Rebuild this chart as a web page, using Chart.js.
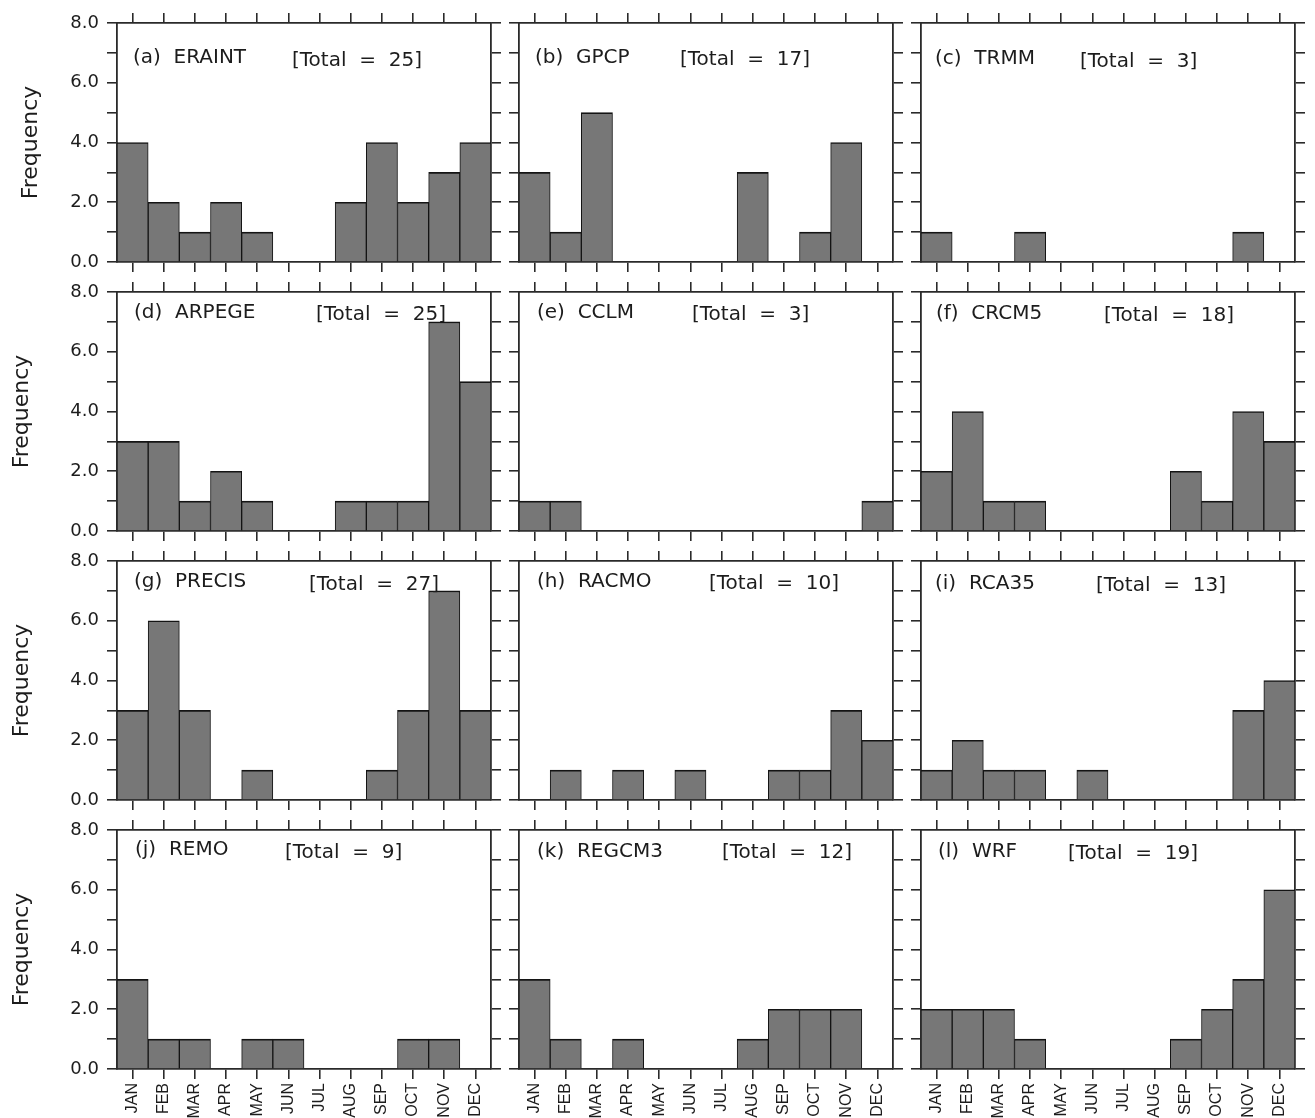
<!DOCTYPE html>
<html>
<head>
<meta charset="utf-8">
<script src="https://cdn.jsdelivr.net/npm/chart.js@4.4.1/dist/chart.umd.min.js"></script>
<style>
  html, body { margin: 0; padding: 0; background: #ffffff; }
  #wrap { position: relative; width: 1315px; height: 1118px; overflow: hidden; background: #ffffff; }
  #wrap canvas { position: absolute; }
</style>
</head>
<body>
<div id="wrap"></div>
<script>
// Month categories on every panel
const months = ['JAN', 'FEB', 'MAR', 'APR', 'MAY', 'JUN', 'JUL', 'AUG', 'SEP', 'OCT', 'NOV', 'DEC'];

// Monthly event counts per dataset / model
const eraint = [4, 2, 1, 2, 1, 0, 0, 2, 4, 2, 3, 4];
const gpcp   = [3, 1, 5, 0, 0, 0, 0, 3, 0, 1, 4, 0];
const trmm   = [1, 0, 0, 1, 0, 0, 0, 0, 0, 0, 1, 0];
const arpege = [3, 3, 1, 2, 1, 0, 0, 1, 1, 1, 7, 5];
const cclm   = [1, 1, 0, 0, 0, 0, 0, 0, 0, 0, 0, 1];
const crcm5  = [2, 4, 1, 1, 0, 0, 0, 0, 2, 1, 4, 3];
const precis = [3, 6, 3, 0, 1, 0, 0, 0, 1, 3, 7, 3];
const racmo  = [0, 1, 0, 1, 0, 1, 0, 0, 1, 1, 3, 2];
const rca35  = [1, 2, 1, 1, 0, 1, 0, 0, 0, 0, 3, 4];
const remo   = [3, 1, 1, 0, 1, 1, 0, 0, 0, 1, 1, 0];
const regcm3 = [3, 1, 0, 1, 0, 0, 0, 1, 2, 2, 2, 0];
const wrf    = [2, 2, 2, 1, 0, 0, 0, 0, 1, 2, 3, 6];

const panelSeries = [eraint, gpcp, trmm, arpege, cclm, crcm5, precis, racmo, rca35, remo, regcm3, wrf];
const panelNames  = ['ERAINT', 'GPCP', 'TRMM', 'ARPEGE', 'CCLM', 'CRCM5', 'PRECIS', 'RACMO', 'RCA35', 'REMO', 'REGCM3', 'WRF'];
const panelLetters = ['a', 'b', 'c', 'd', 'e', 'f', 'g', 'h', 'i', 'j', 'k', 'l'];

// Y axis: 0..8, a tick at every unit, a label at every second one
const yMin = 0;
const yMax = 8;
const yStep = 1;
const yLabelEvery = 2;

// ---- layout of the 4 x 3 grid of panels ----
const PANEL_W = 374;
const PANEL_H = 239;
const TICK = 10;
const MARGIN = 12;            // spare room around each canvas so label padding never squeezes the plot
const colLeft = [117, 519, 921];
const rowTop = [23, 292, 561, 830];
const BOTTOM_LABEL_H = 49;

// Placement of the in-panel captions (offsets from the plot area's top-left, baseline)
const titlePos = [[16, 40], [16, 40], [14, 41], [17, 26], [18, 26], [15, 27],
                  [17, 26], [18, 26], [14, 28], [18, 25], [18, 27], [17, 27]];
const totalPos = [[175, 43], [161, 42], [159, 44], [199, 28], [173, 28], [183, 29],
                  [192, 29], [190, 28], [175, 30], [168, 28], [203, 28], [147, 29]];

const INK = '#1c1c1c';
const FRAME = '#2a2a2a';
const BAR_FILL = '#777777';

const panelText = {
  id: 'panelText',
  afterDraw(chart, args, opts) {
    const { ctx, chartArea } = chart;
    ctx.save();
    ctx.fillStyle = INK;
    ctx.font = '20px "DejaVu Sans"';
    ctx.textBaseline = 'alphabetic';
    ctx.textAlign = 'left';
    ctx.fillText(opts.title, chartArea.left + opts.titleXY[0], chartArea.top + opts.titleXY[1]);
    ctx.fillText(opts.total, chartArea.left + opts.totalXY[0], chartArea.top + opts.totalXY[1]);
    ctx.restore();
  }
};

const wrap = document.getElementById('wrap');

panelSeries.forEach((values, i) => {
  const col = i % 3;
  const row = Math.floor(i / 3);
  const leftW = (col === 0 ? colLeft[0] : TICK + MARGIN);
  const bottomH = (row === 3 ? BOTTOM_LABEL_H : TICK) + MARGIN;
  const topH = TICK + MARGIN;
  const rightW = TICK + MARGIN;
  const w = leftW + PANEL_W + rightW;
  const h = topH + PANEL_H + bottomH;

  const canvas = document.createElement('canvas');
  canvas.width = w;
  canvas.height = h;
  canvas.style.width = w + 'px';
  canvas.style.height = h + 'px';
  canvas.style.left = (colLeft[col] - leftW) + 'px';
  canvas.style.top = (rowTop[row] - topH) + 'px';
  wrap.appendChild(canvas);

  const total = values.reduce((a, b) => a + b, 0);

  const gridTicks = {
    drawOnChartArea: false,
    drawTicks: true,
    tickLength: TICK,
    color: FRAME,
    lineWidth: 1.6,
    offset: false
  };
  const frameBorder = { display: true, color: FRAME, width: 1.8 };

  new Chart(canvas, {
    type: 'bar',
    data: {
      labels: months,
      datasets: [{
        data: values,
        backgroundColor: BAR_FILL,
        borderColor: '#141414',
        borderWidth: { top: 1.6, left: 1, right: 1, bottom: 0 },
        borderSkipped: 'start',
        categoryPercentage: 1.0,
        barPercentage: 1.0
      }]
    },
    options: {
      responsive: false,
      animation: false,
      events: [],
      layout: { padding: 0 },
      plugins: {
        legend: { display: false },
        tooltip: { enabled: false },
        panelText: {
          title: '(' + panelLetters[i] + ')  ' + panelNames[i],
          total: '[Total  =  ' + total + ']',
          titleXY: titlePos[i],
          totalXY: totalPos[i]
        }
      },
      scales: {
        x: {
          type: 'category',
          position: 'bottom',
          offset: true,
          grid: gridTicks,
          border: frameBorder,
          ticks: {
            display: row === 3,
            autoSkip: false,
            minRotation: 90,
            maxRotation: 90,
            padding: 4,
            color: INK,
            font: { family: '"Liberation Sans", Arial, sans-serif', size: 16, lineHeight: 1 }
          },
          afterFit: (s) => { s.height = bottomH; }
        },
        xTop: {
          type: 'category',
          position: 'top',
          offset: true,
          labels: months,
          grid: gridTicks,
          border: frameBorder,
          ticks: { display: false },
          afterFit: (s) => { s.height = topH; }
        },
        y: {
          type: 'linear',
          position: 'left',
          min: yMin,
          max: yMax,
          grid: gridTicks,
          border: frameBorder,
          ticks: {
            display: col === 0,
            stepSize: yStep,
            padding: 8,
            color: INK,
            font: { family: '"DejaVu Sans"', size: 18, lineHeight: 1 },
            callback: (v) => (v % yLabelEvery === 0 ? v.toFixed(1) : '')
          },
          title: {
            display: col === 0,
            text: 'Frequency',
            color: INK,
            font: { family: '"DejaVu Sans"', size: 22, lineHeight: 1.2 },
            padding: { top: row === 0 ? 18 : 9, bottom: 0 }
          },
          afterFit: (s) => { s.width = leftW; }
        },
        yRight: {
          type: 'linear',
          position: 'right',
          min: yMin,
          max: yMax,
          grid: gridTicks,
          border: frameBorder,
          ticks: { display: false, stepSize: yStep },
          afterFit: (s) => { s.width = rightW; }
        }
      }
    },
    plugins: [panelText]
  });
});
</script>
</body>
</html>
